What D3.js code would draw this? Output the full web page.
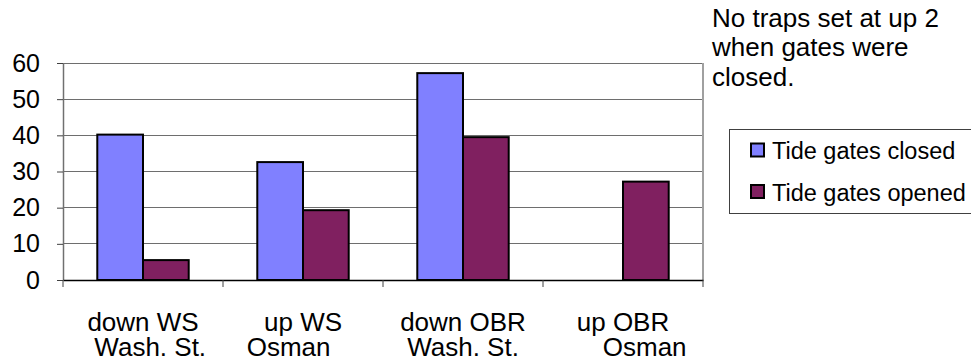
<!DOCTYPE html>
<html><head><meta charset="utf-8">
<script src="https://cdn.jsdelivr.net/npm/d3@7"></script>
<style>
html,body{margin:0;padding:0;background:#fff;}
svg{display:block;font-family:"Liberation Sans",Arial,sans-serif;}
text{white-space:pre;}
</style></head>
<body>
<svg id="c" width="971" height="360"></svg>
<script>
const categories = ["down WS|  Wash. St.", "up WS|Osman    ", "down OBR|Wash. St.", "up OBR|      Osman"];
const seriesNames = ["Tide gates closed", "Tide gates opened"];
const closedValues = [40.2, 32.6, 57.2, null];
const openedValues = [5.5, 19.3, 39.5, 27.2];
const yTicks = [0, 10, 20, 30, 40, 50, 60];
const noteLines = ["No traps set at up 2", "when gates were", "closed."];
const colors = ["#8080FF", "#802060"];

const svg = d3.select("#c");
const L = 63, R = 703, T = 63, B = 280;

const x0 = d3.scaleBand().domain(categories).range([L, R]).padding(0);
const x1 = d3.scaleBand().domain(seriesNames).range([0, x0.bandwidth()]).paddingInner(0).paddingOuter(0.75);
const y = d3.scaleLinear().domain([0, 60]).range([B, T]);

// gridlines
svg.append("g").selectAll("line").data(yTicks.filter(d => d > 0)).join("line")
  .attr("x1", L).attr("x2", R).attr("y1", d => y(d)).attr("y2", d => y(d))
  .attr("stroke", "#6e6e6e").attr("stroke-width", 1).attr("shape-rendering", "crispEdges");

// right border
svg.append("line").attr("x1", R).attr("x2", R).attr("y1", T).attr("y2", B)
  .attr("stroke", "#a0a0a0").attr("stroke-width", 2);

// y axis
const yAxis = d3.axisLeft(y).tickValues(yTicks).tickSize(6).tickPadding(17).tickSizeOuter(0);
const gy = svg.append("g").attr("transform", `translate(${L},0)`).call(yAxis);
gy.select(".domain").attr("stroke", "#707070").attr("stroke-width", 1.5);
gy.selectAll(".tick line").attr("stroke", "#404040");
gy.selectAll(".tick text").attr("font-size", 25).attr("fill", "#000")
  .attr("font-family", "Liberation Sans, Arial, sans-serif");

// series data
const data = [closedValues, openedValues];
const rows = categories.map((c, i) => seriesNames.map((s, j) => ({cat: c, s, v: data[j][i], j})));

svg.append("g").selectAll("g").data(rows).join("g")
  .attr("transform", d => `translate(${x0(d[0].cat)},0)`)
  .selectAll("rect").data(d => d.filter(e => e.v != null)).join("rect")
  .attr("x", d => x1(d.s)).attr("width", x1.bandwidth())
  .attr("y", d => y(d.v)).attr("height", d => y(0) - y(d.v))
  .attr("fill", d => colors[d.j]).attr("stroke", "#000").attr("stroke-width", 2);

// x axis
const xAxis = d3.axisBottom(x0).tickSize(0).tickFormat("");
const gx = svg.append("g").attr("transform", `translate(0,${B})`).call(xAxis);
gx.select(".domain").attr("stroke", "#000").attr("stroke-width", 1.5);
// category boundary ticks
const bounds = categories.map(c => x0(c)).concat([x0.range()[1]]);
svg.append("g").selectAll("line").data(bounds).join("line")
  .attr("x1", d => d).attr("x2", d => d).attr("y1", B).attr("y2", B + 7)
  .attr("stroke", "#404040").attr("stroke-width", 1);
// category labels
const lg = svg.append("g").selectAll("text").data(categories).join("text")
  .attr("text-anchor", "middle").attr("font-size", 26).attr("fill", "#000")
  .attr("transform", d => `translate(${x0(d) + x0.bandwidth() / 2},331)`);
lg.selectAll("tspan").data(d => d.split("|")).join("tspan")
  .attr("x", 0).attr("dy", (d, i) => i === 0 ? 0 : 25).text(d => d);

// note
svg.append("text").attr("x", 712).attr("y", 27).attr("font-size", 26).attr("fill", "#000")
  .selectAll("tspan").data(noteLines).join("tspan")
  .attr("x", 712).attr("dy", (d, i) => i === 0 ? 0 : 29.3).text(d => d);

// legend
svg.append("rect").attr("x", 729.5).attr("y", 129.5).attr("width", 260).attr("height", 84)
  .attr("fill", "#fff").attr("stroke", "#404040").attr("stroke-width", 1);
const leg = svg.append("g").selectAll("g").data(seriesNames).join("g")
  .attr("transform", (d, i) => `translate(751,${143.5 + i * 41.5})`);
leg.append("rect").attr("width", 13).attr("height", 13)
  .attr("fill", (d, i) => colors[i]).attr("stroke", "#000").attr("stroke-width", 2);
leg.append("text").attr("x", 21).attr("y", 15.5).attr("font-size", 23.5).attr("fill", "#000").text(d => d);
</script>
</body></html>
